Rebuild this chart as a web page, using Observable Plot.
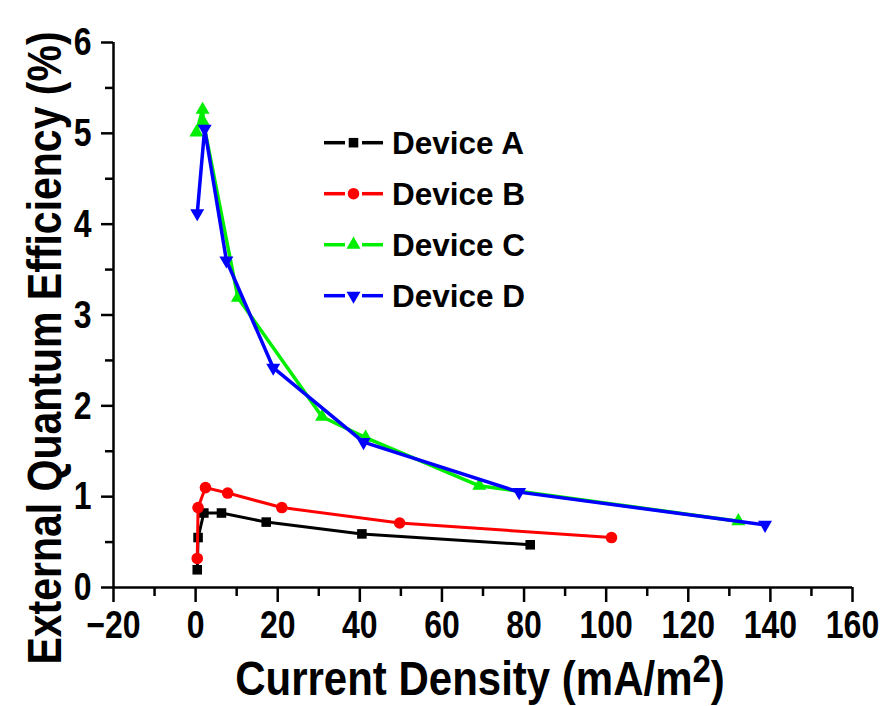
<!DOCTYPE html>
<html><head><meta charset="utf-8">
<script src="https://cdn.jsdelivr.net/npm/d3@7"></script>
<script src="https://cdn.jsdelivr.net/npm/@observablehq/plot@0.6"></script>
<style>
body{margin:0;background:#fff;}
#chart svg{display:block;}
</style></head><body><div id="chart"></div>
<script>
// ---- data ----
const devices = ["Device A", "Device B", "Device C", "Device D"];
const colors = ["#000000", "#ff0000", "#00ee00", "#0000ff"];
const aX = [0.4, 0.6, 2.0, 6.3, 17.2, 40.5, 81.5];
const aY = [0.195, 0.55, 0.82, 0.82, 0.72, 0.59, 0.47];
const bX = [0.4, 0.6, 2.4, 7.8, 21.0, 49.7, 101.3];
const bY = [0.32, 0.88, 1.10, 1.04, 0.88, 0.71, 0.55];
const cX = [0.2, 1.7, 1.9, 10.3, 30.8, 41.4, 69.1, 132.2];
const cY = [5.01, 5.26, 5.12, 3.19, 1.88, 1.65, 1.12, 0.73];
const dX = [0.4, 2.2, 7.5, 18.9, 40.9, 78.8, 138.7];
const dY = [4.12, 5.05, 3.60, 2.42, 1.60, 1.05, 0.69];
const xTicks = [-20, 0, 20, 40, 60, 80, 100, 120, 140, 160];
const xMinor = [-10, 10, 30, 50, 70, 90, 110, 130, 150];
const yTicks = [0, 1, 2, 3, 4, 5, 6];
const yMinor = [0.5, 1.5, 2.5, 3.5, 4.5, 5.5];
const xTitle = "Current Density (mA/m";
const xTitleSup = "2";
const yTitle = "External Quantum Efficiency (%)";

const triangleDown = {
  draw(context, size) {
    const y = -Math.sqrt(size / (Math.sqrt(3) * 3));
    context.moveTo(0, -y * 2);
    context.lineTo(-Math.sqrt(3) * y, y);
    context.lineTo(Math.sqrt(3) * y, y);
    context.closePath();
  }
};
const symbols = [d3.symbolSquare, d3.symbolCircle, d3.symbolTriangle, triangleDown];
const radii = [5.4, 5.8, 5.2, 5.2];
const widths = [3, 3, 3.5, 3.5];

const seriesX = [aX, bX, cX, dX];
const seriesY = [aY, bY, cY, dY];
const series = devices.map((name, i) => seriesX[i].map((x, j) => ({x, y: seriesY[i][j], name})));

const FONT = "'Liberation Sans', Arial, Helvetica, sans-serif";

const marks = [];
series.forEach((data, i) => {
  marks.push(Plot.line(data, {x: "x", y: "y", stroke: colors[i], strokeWidth: widths[i], strokeLinejoin: "round"}));
  marks.push(Plot.dot(data, {x: "x", y: "y", fill: colors[i], stroke: "none", symbol: symbols[i], r: radii[i]}));
});

const plot = Plot.plot({
  width: 886,
  height: 706,
  marginLeft: 113,
  marginRight: 34,
  marginTop: 42,
  marginBottom: 119,
  style: {fontFamily: FONT, background: "#fff", overflow: "visible"},
  x: {domain: [-20, 160], label: null},
  y: {domain: [0, 6], label: null},
  marks: [
    Plot.axisX({ticks: xTicks, tickSize: 15, tickPadding: 8, fontSize: 32, fontWeight: "bold", strokeWidth: 2.5, label: null, tickFormat: d => d < 0 ? "\u2212" + Math.abs(d) : String(d)}),
    Plot.axisX({ticks: xMinor, tickSize: 9, strokeWidth: 2.5, label: null, tickFormat: () => ""}),
    Plot.axisY({ticks: yTicks, tickSize: 12, tickPadding: 10, fontSize: 32, fontWeight: "bold", strokeWidth: 2.5, label: null, tickFormat: d => String(d)}),
    Plot.axisY({ticks: yMinor, tickSize: 8, strokeWidth: 2.5, label: null, tickFormat: () => ""}),
    Plot.ruleY([0], {stroke: "#000", strokeWidth: 2.5}),
    Plot.ruleX([-20], {stroke: "#000", strokeWidth: 2.5}),
    ...marks
  ]
});

document.getElementById("chart").appendChild(plot);
const svg = d3.select(plot);

// vertically stretch tick labels (reference glyphs are tall/condensed)
function stretch(sel, s, anchorTop) {
  sel.each(function () {
    const bb = this.getBBox();
    const cx = bb.x + bb.width / 2, cy = anchorTop ? bb.y + bb.height * 0.2 : bb.y + bb.height / 2;
    const t = this.getAttribute("transform") || "";
    this.setAttribute("transform", `${t} translate(${cx},${cy}) scale(1,${s}) translate(${-cx},${-cy})`);
  });
}
stretch(svg.selectAll('g[aria-label="x-axis tick label"] text'), 1.2, true);
stretch(svg.selectAll('g[aria-label="y-axis tick label"] text'), 1.22, false);

// axis titles
const xt = svg.append("text")
  .attr("transform", "translate(480,695) scale(1,1.15)")
  .attr("text-anchor", "middle")
  .attr("font-family", FONT).attr("font-weight", "bold").attr("font-size", 42)
  .attr("fill", "#000");
xt.append("tspan").text(xTitle);
xt.append("tspan").attr("dy", -11).attr("font-size", 33).text(xTitleSup);
xt.append("tspan").attr("dy", 11).text(")");

svg.append("text")
  .attr("transform", "translate(61,348) rotate(-90) scale(1,1.18)")
  .attr("text-anchor", "middle")
  .attr("font-family", FONT).attr("font-weight", "bold").attr("font-size", 41)
  .attr("fill", "#000")
  .text(yTitle);

// legend
const lg = svg.append("g").attr("text-anchor", "start");
devices.forEach((name, i) => {
  const y = 142.7 + i * 51;
  const g = lg.append("g");
  g.append("line").attr("x1", 324).attr("x2", 345).attr("y1", y).attr("y2", y).attr("stroke", colors[i]).attr("stroke-width", 3.5);
  g.append("line").attr("x1", 362).attr("x2", 383).attr("y1", y).attr("y2", y).attr("stroke", colors[i]).attr("stroke-width", 3.5);
  g.append("path").attr("transform", `translate(353.5,${y})`)
    .attr("d", d3.symbol().type(symbols[i]).size(radii[i] * radii[i] * Math.PI)())
    .attr("fill", colors[i]);
  g.append("text").attr("x", 392).attr("y", y).attr("dy", "0.36em")
    .attr("text-anchor", "start")
    .attr("font-family", FONT).attr("font-weight", "bold").attr("font-size", 31.5)
    .attr("fill", "#000").text(name);
});
</script></body></html>
